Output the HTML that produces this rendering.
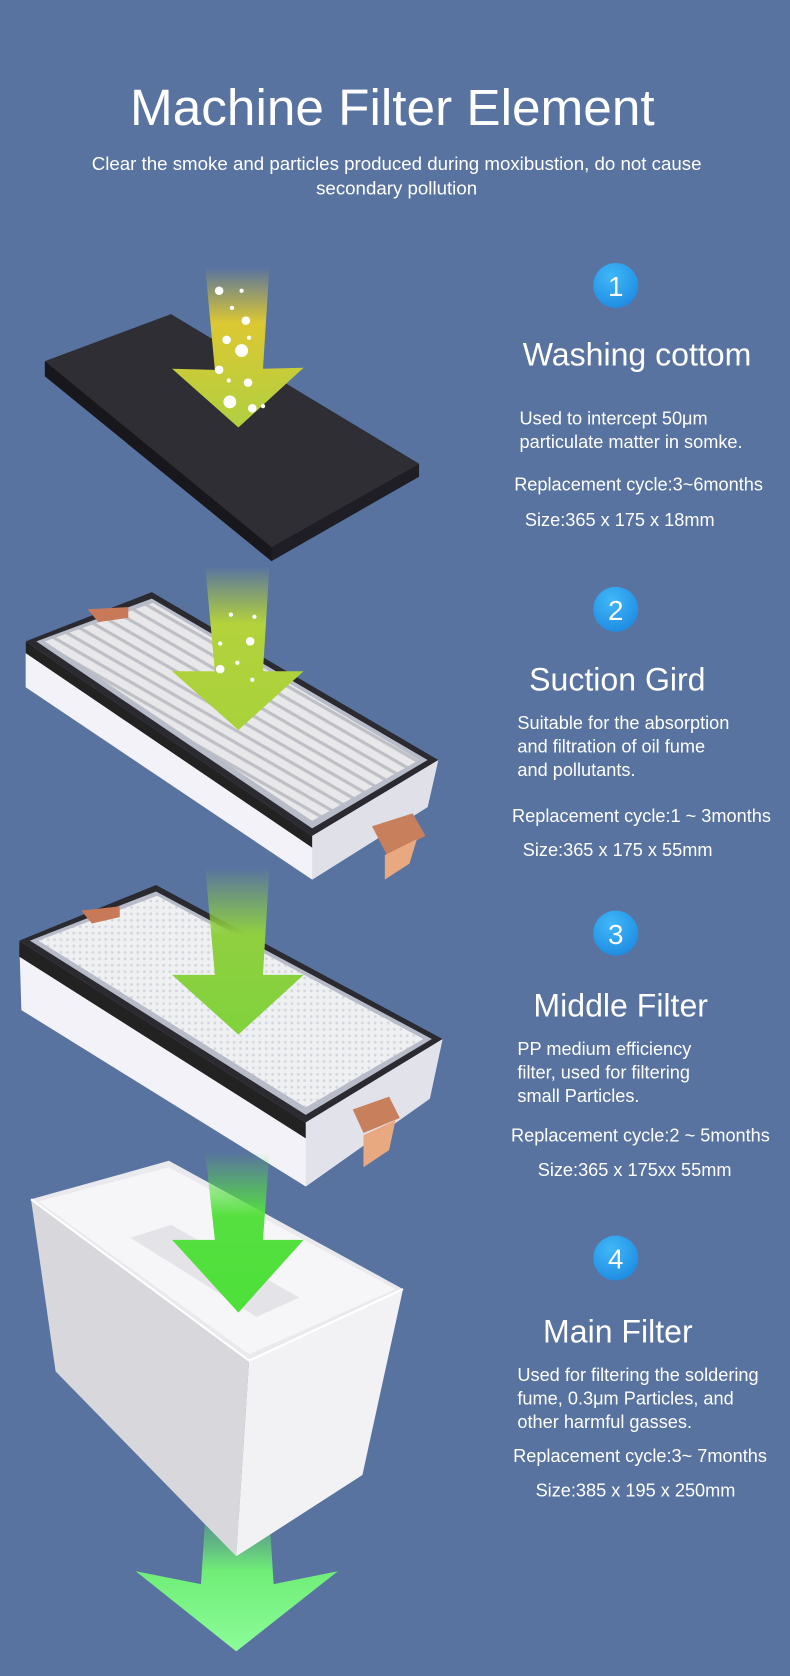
<!DOCTYPE html>
<html><head><meta charset="utf-8"><style>
html,body{margin:0;padding:0;background:#5873a0;}
svg{display:block}
text{font-family:"Liberation Sans","DejaVu Sans",sans-serif;fill:#fff}
</style></head><body>
<svg width="790" height="1676" viewBox="0 0 739 1568" preserveAspectRatio="none" xmlns="http://www.w3.org/2000/svg">
<defs>
<linearGradient id="y1" x1="0" y1="0" x2="0" y2="1"><stop offset="0" stop-color="#dcc832" stop-opacity="0"/><stop offset="0.35" stop-color="#dcc832"/><stop offset="1" stop-color="#b0d040"/></linearGradient>
<linearGradient id="y2" x1="0" y1="0" x2="0" y2="1"><stop offset="0" stop-color="#b4d23c" stop-opacity="0"/><stop offset="0.35" stop-color="#b4d23c"/><stop offset="1" stop-color="#a8d23a"/></linearGradient>
<linearGradient id="y3" x1="0" y1="0" x2="0" y2="1"><stop offset="0" stop-color="#90d040" stop-opacity="0"/><stop offset="0.4" stop-color="#90d040"/><stop offset="1" stop-color="#80d23c"/></linearGradient>
<linearGradient id="y4" x1="0" y1="0" x2="0" y2="1"><stop offset="0" stop-color="#56e040" stop-opacity="0"/><stop offset="0.4" stop-color="#56e040"/><stop offset="1" stop-color="#4de03a"/></linearGradient>
<linearGradient id="y5" x1="0" y1="0" x2="0" y2="1"><stop offset="0" stop-color="#60d070" stop-opacity="0.3"/><stop offset="0.4" stop-color="#70ee78"/><stop offset="1" stop-color="#8cfc98"/></linearGradient>
<radialGradient id="bc" cx="0.4" cy="0.3" r="0.8"><stop offset="0" stop-color="#40b8f8"/><stop offset="1" stop-color="#1c88e0"/></radialGradient>
<pattern id="pl" width="10" height="10" patternUnits="userSpaceOnUse" patternTransform="rotate(30)"><rect width="10" height="10" fill="#e8e8ea"/><rect y="0" width="10" height="3" fill="#bfc0c6"/></pattern>
<pattern id="mesh" width="6" height="6" patternUnits="userSpaceOnUse"><rect width="6" height="6" fill="#eef0f2"/><circle cx="3" cy="3" r="1.3" fill="#d4d6dc"/></pattern>
</defs>

<text x="367" y="117" font-size="48" text-anchor="middle">Machine Filter Element</text>
<text x="371" y="159" font-size="17.5" text-anchor="middle">Clear the smoke and particles produced during moxibustion, do not cause</text>
<text x="371" y="182" font-size="17.5" text-anchor="middle">secondary pollution</text>

<!-- foam -->
<polygon points="42,338 160,294 392,434 392,446 254,525 42,352" fill="#1e1e24"/>
<polygon points="42,338 160,294 392,434 254,512" fill="#2e2e34"/>
<polygon points="42,338 254,512 254,525 42,352" fill="#18181c"/>
<!-- arrow1 -->
<path d="M192,250 L252,250 L246,345 L284,344 L223,400 L161,345 L201,346 Z" fill="url(#y1)"/>
<g fill="#fff"><circle cx="205" cy="272" r="4"/><circle cx="226" cy="272" r="2"/><circle cx="230" cy="300" r="4"/><circle cx="217" cy="288" r="2"/><circle cx="212" cy="318" r="4"/><circle cx="226" cy="328" r="6"/><circle cx="233" cy="316" r="2"/><circle cx="205" cy="346" r="4"/><circle cx="214" cy="356" r="2"/><circle cx="232" cy="358" r="4"/><circle cx="215" cy="376" r="6"/><circle cx="236" cy="382" r="4"/><circle cx="246" cy="380" r="2"/></g>

<!-- filter 2 -->
<polygon points="24,600 24,643 292,823 400,755 410,711 292,782" fill="#f2f2f8"/>
<polygon points="292,782 410,711 400,755 292,823" fill="#e0e0e8"/>
<polygon points="24,600 142,554 410,711 292,782" fill="#2a2a30"/>
<polygon points="24,600 292,782 292,793 24,611" fill="#222"/>
<polygon points="34,600 142,560 400,711 292,775" fill="#b8bcc8"/>
<polygon points="42,600 143,564 392,711 292,768" fill="url(#pl)"/>
<polygon points="82,570 120,568 120,578 92,582" fill="#c87a58"/>
<polygon points="348,773 386,761 398,782 362,800" fill="#c8805c"/>
<polygon points="360,800 390,785 383,808 360,823" fill="#e8a880"/>
<!-- arrow2 -->
<path d="M192,530 L252,530 L246,628 L284,628 L223,683 L161,628 L201,628 Z" fill="url(#y2)"/>
<g fill="#fff"><circle cx="216" cy="575" r="2"/><circle cx="238" cy="577" r="2"/><circle cx="206" cy="602" r="2"/><circle cx="234" cy="600" r="4"/><circle cx="206" cy="626" r="4"/><circle cx="222" cy="620" r="2"/><circle cx="236" cy="636" r="2"/></g>

<!-- filter 3 -->
<polygon points="18,880 20,945 286,1110 402,1028 414,972 286,1050" fill="#f2f2f8"/>
<polygon points="286,1050 414,972 402,1028 286,1110" fill="#e2e2ea"/>
<polygon points="18,880 146,828 414,972 286,1050" fill="#2a2a30"/>
<polygon points="18,880 286,1050 286,1065 18,895" fill="#222"/>
<polygon points="28,880 146,834 404,972 286,1043" fill="#b8bcc8"/>
<polygon points="36,880 147,838 396,972 286,1036" fill="url(#mesh)"/>
<polygon points="76,852 112,848 112,858 86,864" fill="#c87a58"/>
<polygon points="330,1038 364,1026 374,1046 340,1060" fill="#c8805c"/>
<polygon points="340,1062 370,1048 364,1076 340,1092" fill="#e8a880"/>
<!-- arrow3 -->
<path d="M192,812 L252,812 L246,912 L284,912 L223,968 L161,912 L201,912 Z" fill="url(#y3)"/>

<!-- bottom arrow (behind box) -->
<path d="M192,1420 L252,1420 L256,1482 L316,1470 L221,1545 L127,1470 L188,1482 Z" fill="url(#y5)"/>

<!-- box 4 -->
<polygon points="29,1122 158,1086 377,1206 233,1273" fill="#eaeaee"/>
<polygon points="29,1122 233,1273 221,1456 52,1283" fill="#d8d8dc"/>
<polygon points="233,1273 377,1206 339,1380 221,1456" fill="#f2f2f4"/>
<polygon points="36,1124 158,1092 370,1206 233,1267" fill="#f6f6f8"/>
<polygon points="122,1158 160,1146 280,1214 240,1232" fill="#e4e4e8"/>
<polyline points="29,1122 233,1273 377,1206" fill="none" stroke="#ffffff" stroke-width="2"/>
<!-- arrow4 -->
<path d="M192,1078 L252,1078 L246,1160 L284,1160 L223,1228 L161,1160 L201,1160 Z" fill="url(#y4)"/>

<!-- badges -->
<g><circle cx="576" cy="267" r="21" fill="url(#bc)"/><text x="576" y="277" font-size="26" text-anchor="middle">1</text></g>
<g><circle cx="576" cy="570" r="21" fill="url(#bc)"/><text x="576" y="580" font-size="26" text-anchor="middle">2</text></g>
<g><circle cx="576" cy="873" r="21" fill="url(#bc)"/><text x="576" y="883" font-size="26" text-anchor="middle">3</text></g>
<g><circle cx="576" cy="1177" r="21" fill="url(#bc)"/><text x="576" y="1187" font-size="26" text-anchor="middle">4</text></g>

<text x="489" y="342" font-size="30">Washing cottom</text>
<text x="486" y="397" font-size="17">Used to intercept 50μm</text>
<text x="486" y="419" font-size="17">particulate matter in somke.</text>
<text x="481" y="459" font-size="17">Replacement cycle:3~6months</text>
<text x="491" y="492" font-size="17">Size:365 x 175 x 18mm</text>

<text x="495" y="646" font-size="30">Suction Gird</text>
<text x="484" y="682" font-size="17">Suitable for the absorption</text>
<text x="484" y="704" font-size="17">and filtration of  oil fume</text>
<text x="484" y="726" font-size="17">and pollutants.</text>
<text x="479" y="769" font-size="17">Replacement cycle:1 ~ 3months</text>
<text x="489" y="801" font-size="17">Size:365 x 175 x 55mm</text>

<text x="499" y="951" font-size="30">Middle Filter</text>
<text x="484" y="987" font-size="17">PP medium efficiency</text>
<text x="484" y="1009" font-size="17">filter, used for filtering</text>
<text x="484" y="1031" font-size="17">small Particles.</text>
<text x="478" y="1068" font-size="17">Replacement cycle:2 ~ 5months</text>
<text x="503" y="1100" font-size="17">Size:365 x 175xx 55mm</text>

<text x="508" y="1256" font-size="30">Main Filter</text>
<text x="484" y="1292" font-size="17">Used for filtering the soldering</text>
<text x="484" y="1314" font-size="17">fume, 0.3μm Particles, and</text>
<text x="484" y="1336" font-size="17">other harmful  gasses.</text>
<text x="480" y="1368" font-size="17">Replacement cycle:3~ 7months</text>
<text x="501" y="1400" font-size="17">Size:385 x 195 x 250mm</text>
</svg>
</body></html>
